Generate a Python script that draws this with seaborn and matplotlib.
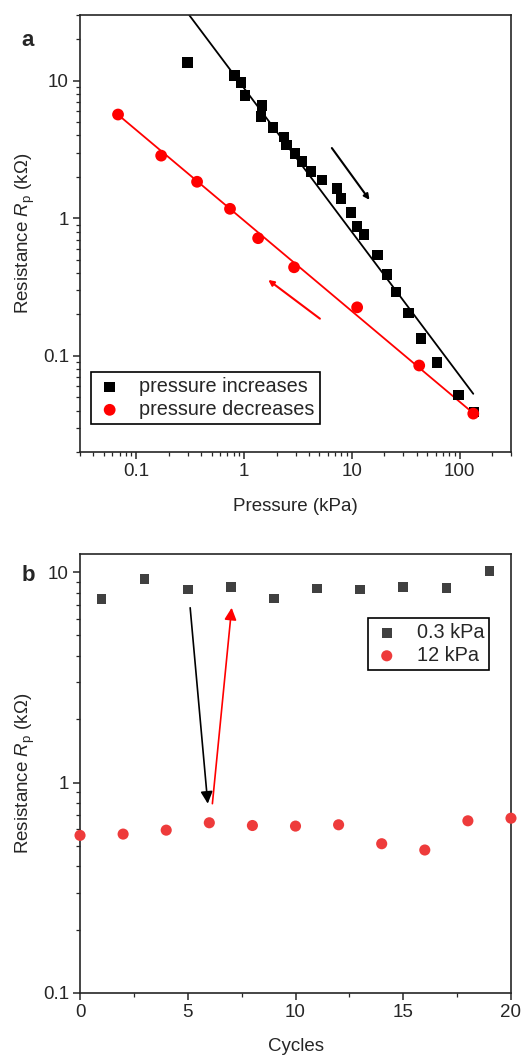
import numpy as np
import pandas as pd
import matplotlib
matplotlib.use("Agg")
import matplotlib.pyplot as plt
import matplotlib.ticker as mticker
import seaborn as sns

# panel a: resistance vs pressure
inc_pressure = [0.30, 0.81, 0.94, 1.02, 1.47, 1.43, 1.86, 2.35, 2.46, 2.98, 3.46, 4.19,
                5.3, 7.3, 7.9, 9.8, 11.2, 13.0, 17.2, 21.2, 25.7, 33.4, 43.9, 61.7, 97.6, 136]
inc_res = [13.5, 10.9, 9.7, 7.8, 6.6, 5.5, 4.55, 3.9, 3.4, 2.95, 2.58, 2.18,
           1.9, 1.64, 1.39, 1.1, 0.87, 0.76, 0.54, 0.39, 0.29, 0.204, 0.133, 0.089, 0.052, 0.039]
dec_pressure = [0.0676, 0.17, 0.366, 0.74, 1.35, 2.91, 11.2, 42.2, 134]
dec_res = [5.67, 2.85, 1.84, 1.17, 0.716, 0.44, 0.225, 0.085, 0.038]

# power-law fit lines R = A * P^b
inc_fit = dict(A=8.8, b=-1.044, pmin=0.31, pmax=134)
dec_fit = dict(A=0.96, b=-0.658, pmin=0.0676, pmax=134)

# panel b: cycling
cyc_low = [1, 3, 5, 7, 9, 11, 13, 15, 17, 19]
res_low = [7.43, 9.26, 8.28, 8.52, 7.5, 8.37, 8.28, 8.52, 8.43, 10.1]
cyc_high = [0, 2, 4, 6, 8, 10, 12, 14, 16, 18, 20]
res_high = [0.561, 0.569, 0.594, 0.644, 0.625, 0.621, 0.63, 0.512, 0.478, 0.658, 0.677]

sns.set_style("ticks")
plt.rcParams['font.family'] = ['Liberation Sans', 'DejaVu Sans']
plt.rcParams['mathtext.fontset'] = 'custom'
plt.rcParams['mathtext.it'] = 'Liberation Sans:italic'
plt.rcParams['mathtext.rm'] = 'Liberation Sans'

fig = plt.figure(figsize=(5.31, 10.55), dpi=100)
ax1 = fig.add_axes([0.1507, 0.5716, 0.8116, 0.4142])
ax2 = fig.add_axes([0.1507, 0.0588, 0.8116, 0.4161])

ylabel = r"Resistance $R_\mathrm{p}$ (k$\Omega$)"
LAB = 13.5
TCK = 13.5
LEG = 14.3
leg_kw = dict(fontsize=LEG, frameon=True, fancybox=False, framealpha=1, edgecolor='black',
              borderpad=0.25, handlelength=1.4, handletextpad=0.8, labelspacing=0.2,
              borderaxespad=0)

# ---- panel a
df_inc = pd.DataFrame(dict(p=inc_pressure, r=inc_res))
df_dec = pd.DataFrame(dict(p=dec_pressure, r=dec_res))
for fit, col in [(inc_fit, "black"), (dec_fit, "red")]:
    px = np.logspace(np.log10(fit['pmin']), np.log10(fit['pmax']), 50)
    sns.lineplot(x=px, y=fit['A'] * px ** fit['b'], color=col, lw=1.3, ax=ax1)
sns.scatterplot(df_inc, x='p', y='r', marker='s', s=58, color='black', edgecolor='none',
                ax=ax1, label='pressure increases', zorder=3)
sns.scatterplot(df_dec, x='p', y='r', marker='o', s=72, color='red', edgecolor='none',
                ax=ax1, label='pressure decreases', zorder=4)
ax1.annotate("", xy=(15.1, 1.31), xytext=(6.3, 3.36),
             arrowprops=dict(arrowstyle='-|>', color='black', lw=1.5, mutation_scale=8))
ax1.annotate("", xy=(1.6, 0.366), xytext=(5.3, 0.181),
             arrowprops=dict(arrowstyle='-|>', color='red', lw=1.5, mutation_scale=8))
ax1.set_xscale('log')
ax1.set_yscale('log')
ax1.set_xlim(0.03, 300)
ax1.set_ylim(0.02, 30)
ax1.xaxis.set_major_formatter(mticker.FuncFormatter(lambda v, p: f"{v:g}"))
ax1.yaxis.set_major_formatter(mticker.FuncFormatter(lambda v, p: f"{v:g}"))
ax1.set_xlabel("Pressure (kPa)", fontsize=LAB, labelpad=13)
ax1.set_ylabel(ylabel, fontsize=LAB, labelpad=4)
leg = ax1.legend(loc='lower left', bbox_to_anchor=(0.025, 0.064), **leg_kw)
leg.get_frame().set_linewidth(1.2)
fig.text(0.04, 0.956, "a", fontsize=16, fontweight='bold')

# ---- panel b
df_low = pd.DataFrame(dict(c=cyc_low, r=res_low))
df_high = pd.DataFrame(dict(c=cyc_high, r=res_high))
sns.scatterplot(df_low, x='c', y='r', marker='s', s=48, color='#404040', edgecolor='none',
                ax=ax2, label='0.3 kPa', clip_on=False, zorder=3)
sns.scatterplot(df_high, x='c', y='r', marker='o', s=64, color='#ee3b3b', edgecolor='none',
                ax=ax2, label='12 kPa', clip_on=False, zorder=3)
ax2.annotate("", xy=(5.94, 0.77), xytext=(5.1, 6.98),
             arrowprops=dict(arrowstyle='-|>', color='black', lw=1.2, mutation_scale=18))
ax2.annotate("", xy=(7.05, 6.98), xytext=(6.13, 0.77),
             arrowprops=dict(arrowstyle='-|>', color='red', lw=1.2, mutation_scale=18))
ax2.set_yscale('log')
ax2.set_xlim(0, 20)
ax2.set_ylim(0.1, 12.2)
ax2.xaxis.set_major_locator(mticker.MultipleLocator(5))
ax2.xaxis.set_minor_locator(mticker.MultipleLocator(2.5))
ax2.yaxis.set_major_formatter(mticker.FuncFormatter(lambda v, p: f"{v:g}"))
ax2.set_xlabel("Cycles", fontsize=LAB, labelpad=12)
ax2.set_ylabel(ylabel, fontsize=LAB, labelpad=4)
leg2 = ax2.legend(loc='upper right', bbox_to_anchor=(0.949, 0.854), **leg_kw)
leg2.get_frame().set_linewidth(1.2)
fig.text(0.04, 0.449, "b", fontsize=16, fontweight='bold')

for ax in (ax1, ax2):
    for sp in ax.spines.values():
        sp.set_linewidth(1.2)
        sp.set_visible(True)
    ax.tick_params(which='major', direction='out', length=5, width=1.1, labelsize=TCK, pad=3)
    ax.tick_params(which='minor', direction='out', length=3, width=0.9)

fig.savefig("out.png", dpi=100)
